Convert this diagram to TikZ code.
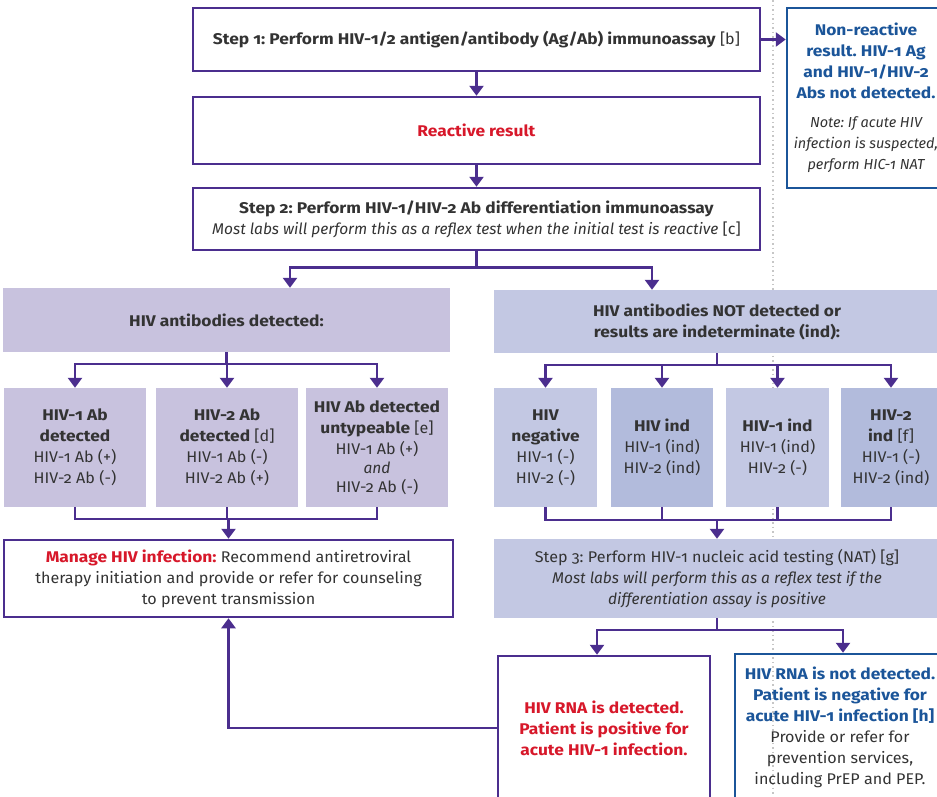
\documentclass[tikz,border=0pt]{standalone}
\usepackage{fontspec}
\setmainfont{Fira Sans}[Numbers=OldStyle,
  UprightFeatures={FakeStretch=1.04},BoldFeatures={FakeStretch=1.12}]
\usetikzlibrary{arrows.meta,positioning,calc}
\definecolor{hivpurple}{HTML}{4B2E8E}
\definecolor{hivred}{HTML}{D7182A}
\definecolor{hivblue}{HTML}{1B5599}
\definecolor{hivtext}{HTML}{333333}
\definecolor{lilac}{HTML}{C8C2DE}
\definecolor{periwinkle}{HTML}{C3C8E3}
\definecolor{periwinkledark}{HTML}{B2BBDC}
\tikzset{stepbox/.style={draw=hivpurple,line width=2.5pt,align=center,inner sep=0pt},
  resbox/.style={draw=hivblue,line width=2.5pt,align=center,inner sep=0pt},
  panel/.style={fill=#1,align=center,inner sep=0pt},
  line/.style={hivpurple,line width=2.5pt},
  arr/.style={line,-{Triangle[width=14pt,length=10pt]}},
  dotline/.style={draw=gray!45,line width=1.5pt,dash pattern=on 1.5pt off 3pt}}
\newcommand{\notefont}{\fontsize{14.5}{21}\selectfont\itshape}
\frenchspacing

\begin{document}
\begin{tikzpicture}[x=1pt,y=-1pt,text=hivtext,font=\fontsize{15.5}{21}\selectfont]
\useasboundingbox (0,0) rectangle (937,796);
\clip (0,0) rectangle (937,796);
\draw[dotline] (773,0) -- (773,796);
% steps 1 and 2
\node[stepbox,minimum width=567pt,minimum height=63pt] (step1) at (476.5,39.5)
  {\textbf{Step 1: Perform HIV-1/2 antigen/antibody (Ag/Ab) immunoassay} [b]};
\node[resbox,minimum width=158pt,minimum height=180pt,text=hivblue] (nonreact) at (866,98)
  {\textbf{Non-reactive}\\ \textbf{result. HIV-1 Ag}\\ \textbf{and HIV-1/HIV-2}\\ \textbf{Abs not detected.}\\[8pt]
   \textcolor{hivtext}{\notefont Note: If acute HIV}\\ \textcolor{hivtext}{\notefont infection is suspected,}\\
   \textcolor{hivtext}{\notefont perform HIC-1 NAT}};
\node[stepbox,minimum width=567pt,minimum height=67pt] (react) at (476.5,130.5)
  {\textcolor{hivred}{\textbf{Reactive result}}};
\node[stepbox,minimum width=567pt,minimum height=62pt] (step2) at (476.5,219)
  {\textbf{Step 2: Perform HIV-1/HIV-2 Ab differentiation immunoassay}\\
   \textit{Most labs will perform this as a reflex test when the initial test is reactive} [c]};
% antibody results
\node[panel=lilac,minimum width=447pt,minimum height=64pt] (abdet) at (226.5,320)
  {\textbf{HIV antibodies detected:}};
\node[panel=periwinkle,minimum width=446pt,minimum height=63pt] (abneg) at (717,321.5)
  {\textbf{HIV antibodies NOT detected or}\\ \textbf{results are indeterminate (ind):}};
\node[panel=lilac,minimum width=142pt,minimum height=119pt] (hivone) at (75,447.5)
  {\textbf{HIV-1 Ab}\\ \textbf{detected}\\ HIV-1 Ab (+)\\ HIV-2 Ab (-)};
\node[panel=lilac,minimum width=142pt,minimum height=119pt] (hivtwo) at (227,447.5)
  {\textbf{HIV-2 Ab}\\ \textbf{detected} [d]\\ HIV-1 Ab (-)\\ HIV-2 Ab (+)};
\node[panel=lilac,minimum width=142pt,minimum height=119pt] (untyp) at (377,447.5)
  {\textbf{HIV Ab detected}\\ \textbf{untypeable} [e]\\ HIV-1 Ab (+)\\[-2pt] \textit{and}\\[-2pt] HIV-2 Ab (-)};
\node[panel=periwinkle,minimum width=103pt,minimum height=119pt] (neg) at (545.5,447.5)
  {\textbf{HIV}\\ \textbf{negative}\\ HIV-1 (-)\\ HIV-2 (-)};
\node[panel=periwinkledark,minimum width=102pt,minimum height=119pt] (ind) at (662,447.5)
  {\textbf{HIV ind}\\ HIV-1 (ind)\\ HIV-2 (ind)};
\node[panel=periwinkle,minimum width=103pt,minimum height=119pt] (indone) at (777.5,447.5)
  {\textbf{HIV-1 ind}\\ HIV-1 (ind)\\ HIV-2 (-)};
\node[panel=periwinkledark,minimum width=100pt,minimum height=119pt] (indtwo) at (891,447.5)
  {\textbf{HIV-2}\\ \textbf{ind} [f]\\ HIV-1 (-)\\ HIV-2 (ind)};
% management and step 3
\node[stepbox,minimum width=449pt,minimum height=77pt] (manage) at (228.5,578.5)
  {\textcolor{hivred}{\textbf{Manage HIV infection:}} Recommend antiretroviral\\
   therapy initiation and provide or refer for counseling\\ to prevent transmission};
\node[panel=periwinkle,minimum width=446pt,minimum height=79pt] (step3) at (717,578.5)
  {Step 3: Perform HIV-1 nucleic acid testing (NAT) [g]\\
   \textit{Most labs will perform this as a reflex test if the}\\
   \textit{differentiation assay is positive}};
\node[stepbox,minimum width=212pt,minimum height=144pt,text=hivred] (rnapos) at (604,728)
  {\textbf{HIV RNA is detected.}\\ \textbf{Patient is positive for}\\ \textbf{acute HIV-1 infection.}};
\node[resbox,minimum width=210pt,minimum height=146pt,text=hivblue] (rnaneg) at (840,727)
  {\textbf{HIV RNA is not detected.}\\ \textbf{Patient is negative for}\\ \textbf{acute HIV-1 infection [h]}\\
   \textcolor{hivtext}{Provide or refer for}\\ \textcolor{hivtext}{prevention services,}\\
   \textcolor{hivtext}{including PrEP and PEP.}};
% connectors
\draw[arr] (step1.east) -- (step1.east -| nonreact.west);
\draw[arr] (step1.south) -- (react.north);
\draw[arr] (react.south) -- (step2.north);
\coordinate (split2) at ($(step2.south)+(0,16)$);
\draw[line] (step2.south) -- (split2);
\draw[arr] (split2) -| ([xshift=63.5pt]abdet.north);
\draw[arr] (split2) -| ([xshift=-65pt]abneg.north);
\coordinate (splitL) at ($(abdet.south)+(0,12)$);
\draw[line] (abdet.south) -- (splitL);
\foreach \n in {hivone,hivtwo,untyp} \draw[arr] (splitL) -| (\n.north);
\coordinate (mergeL) at ($(manage.north)+(0,-20)$);
\foreach \n in {hivone,hivtwo,untyp} \draw[line] (\n.south) |- (mergeL);
\draw[arr] (mergeL) -- (manage.north);
\coordinate (splitR) at ($(abneg.south)+(0,12)$);
\draw[line] (abneg.south) -- (splitR);
\foreach \n in {neg,ind,indone,indtwo} \draw[arr] (splitR) -| (\n.north);
\coordinate (mergeR) at ($(step3.north)+(0,-19)$);
\foreach \n in {neg,ind,indone,indtwo} \draw[line] (\n.south) |- (mergeR);
\draw[arr] (mergeR) -- (step3.north);
\coordinate (split3) at ($(step3.south)+(0,12)$);
\draw[line] (step3.south) -- (split3);
\draw[arr] (split3) -| ([xshift=-7pt]rnapos.north);
\draw[arr] (split3) -| ([xshift=3pt]rnaneg.north);
\draw[arr] (rnapos.west) -| (manage.south);
\end{tikzpicture}
\end{document}
